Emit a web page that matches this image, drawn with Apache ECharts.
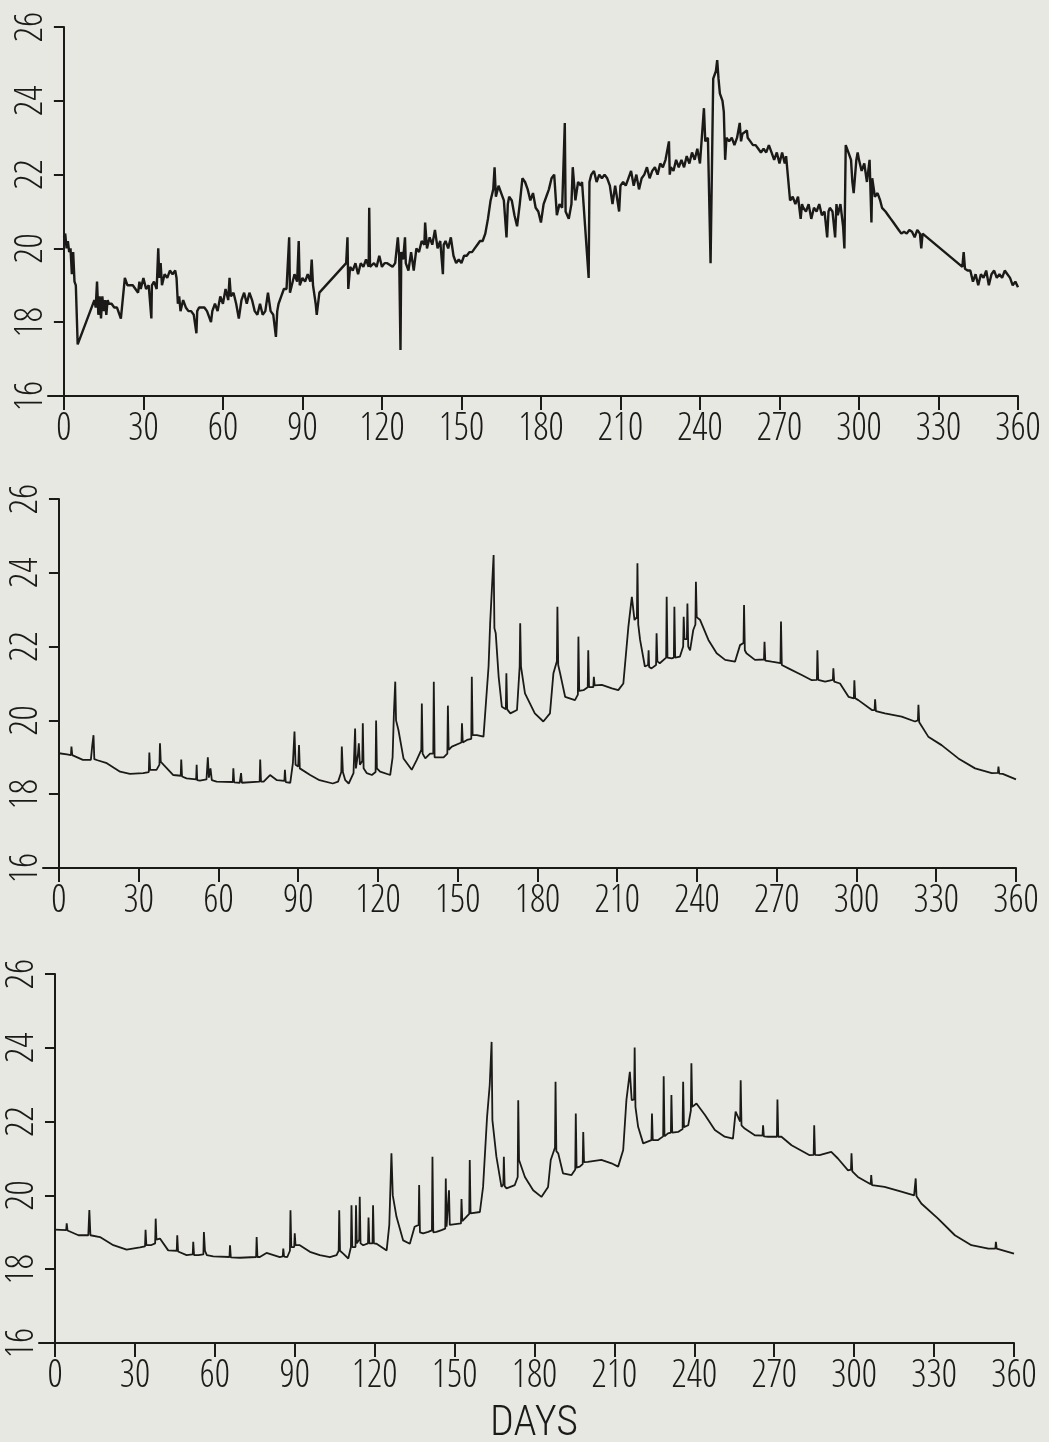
<!DOCTYPE html>
<html>
<head>
<meta charset="utf-8">
<script src="https://cdn.jsdelivr.net/npm/echarts@6/dist/echarts.min.js"></script>
<style>
html,body{margin:0;padding:0;background:#e7e8e2;}
#c{width:1049px;height:1442px;}
</style>
</head>
<body>
<div id="c"></div>
<script>
// Tick values
const dayTicks = [0,30,60,90,120,150,180,210,240,270,300,330,360];
const tempTicks = [16,18,20,22,24,26];
const xLabel = 'DAYS';

// Panel 1 (observed, noisy) [day, temperature]
const panelTop = [[0,20.3],[0.5,20.4],[1,20.0],[1.5,20.2],[2,19.9],[2.5,20.0],[3,19.3],[3.5,19.9],[4,19.1],[4.5,19.0],[5.2,17.4],[11.5,18.6],[12,18.4],[12.5,19.1],[13,18.2],[13.5,18.7],[14,18.1],[14.5,18.7],[15,18.3],[15.5,18.6],[16,18.2],[16.5,18.6],[17,18.5],[18,18.5],[19,18.4],[20,18.4],[21.5,18.1],[23,19.2],[24,19.0],[26,19.0],[27,18.9],[28,18.8],[28.5,19.1],[29,18.9],[30,19.2],[31,18.9],[32,19.0],[33,18.1],[33.2,19.0],[34,19.1],[35,18.9],[35.6,20.0],[36,19.2],[36.5,19.6],[37,19.0],[38,19.3],[39,19.2],[40,19.4],[41,19.3],[42,19.4],[42.5,19.2],[43,18.5],[43.5,18.7],[44,18.3],[45,18.6],[46,18.4],[47,18.3],[48,18.3],[49,18.2],[50,17.7],[50.3,18.3],[51,18.4],[53,18.4],[54,18.3],[55.5,18.0],[56,18.3],[57,18.5],[58,18.3],[59,18.7],[60,18.5],[61,18.9],[62,18.6],[62.5,19.2],[63,18.7],[64,18.8],[65,18.5],[66,18.1],[67,18.6],[68,18.8],[69,18.5],[70,18.8],[71,18.6],[72,18.3],[73,18.2],[74,18.5],[75,18.2],[76,18.3],[77,18.8],[78,18.3],[79,18.2],[80,17.6],[80.5,18.3],[81,18.5],[82,18.7],[83,18.9],[84,18.9],[85,20.3],[85.3,18.8],[86,19.0],[87,19.3],[88,19.1],[88.6,20.2],[89,19.0],[90,19.2],[91,19.1],[92,19.3],[93,19.1],[93.5,19.7],[94,19.0],[95,18.5],[95.4,18.2],[96.4,18.8],[106.5,19.6],[107,20.3],[107.3,18.9],[108,19.5],[109,19.4],[110,19.6],[111,19.3],[112,19.6],[113,19.5],[114,19.7],[115,19.5],[115.2,21.1],[115.5,19.5],[117,19.6],[118,19.5],[119,19.8],[120,19.5],[121,19.6],[122,19.6],[124,19.5],[125,19.6],[126,20.3],[126.5,19.8],[127,17.25],[127.3,19.9],[128,19.7],[128.7,20.3],[129,19.6],[130,19.4],[131,19.9],[132,19.4],[133,20.0],[134,19.9],[135,20.2],[136,20.1],[136.3,20.7],[137,20.0],[138,20.3],[139,20.1],[140,20.5],[141,20.0],[142,20.2],[143,19.3],[143.3,20.1],[144,20.2],[145,20.0],[146,20.3],[147,19.8],[148,19.6],[149,19.7],[150,19.6],[151,19.8],[152,19.8],[153,19.9],[154,19.9],[155,20.0],[156,20.1],[157,20.2],[158,20.2],[159,20.4],[160,20.8],[161,21.3],[162,21.6],[162.5,22.2],[163,21.4],[164,21.7],[165,21.5],[166,21.3],[167,20.3],[167.5,21.2],[168,21.4],[169,21.3],[170,20.9],[171,20.6],[172,21.2],[173,21.9],[174,21.8],[175,21.6],[176,21.3],[177,21.5],[178,21.1],[179,21.0],[180,20.7],[181,21.2],[182,21.4],[183,21.6],[184,21.9],[185,22.0],[186,20.9],[187,21.2],[188,21.1],[189,23.4],[189.3,21.0],[190.5,20.8],[191.5,21.2],[192,22.2],[193,21.3],[194,21.8],[195,21.7],[195.5,21.8],[198,19.2],[198.3,21.8],[199,22.0],[200,22.1],[201,21.8],[202,22.0],[203,21.9],[204,22.0],[205,21.9],[206,21.7],[207,21.2],[208,21.7],[209.5,21.0],[210,21.7],[211,21.8],[212,21.7],[213,21.9],[214,22.1],[215,21.7],[216,22.0],[217,21.6],[218,21.9],[219,22.0],[220,22.2],[221,21.9],[222,22.1],[223,22.2],[224,22.0],[225,22.3],[226,22.2],[227,22.4],[228.3,22.9],[228.6,22.0],[229,22.2],[230,22.1],[231,22.4],[232,22.2],[233,22.4],[234,22.2],[235,22.5],[236,22.3],[237,22.6],[238,22.4],[239,22.7],[240,22.3],[241.5,23.8],[242,22.9],[243,23.0],[244,19.6],[245,24.6],[246,24.8],[246.5,25.1],[247,24.6],[247.5,24.2],[248.5,24.0],[249,23.7],[249.5,22.4],[250,23.0],[251,22.9],[252,23.0],[253,22.8],[254,23.0],[255,23.4],[255.5,22.9],[256,23.1],[257.7,23.2],[258,23.0],[259,22.9],[260,22.8],[261,22.8],[262,22.7],[263,22.6],[264,22.7],[265,22.6],[266,22.8],[267,22.6],[268,22.4],[269,22.6],[270,22.3],[271,22.6],[272,22.3],[272.5,22.5],[274,21.3],[275,21.4],[276,21.2],[277,21.4],[278,20.8],[278.5,21.2],[279,21.1],[280,21.0],[281,21.2],[282,20.8],[283,21.1],[284,21.0],[285,21.2],[286,20.9],[287,21.0],[288,20.3],[288.5,21.0],[289,21.1],[290,21.0],[291,20.3],[291.5,21.2],[292,20.9],[293,21.2],[294,20.6],[294.5,20.0],[295,22.8],[296,22.6],[297,22.4],[297.5,21.8],[298,21.5],[299,22.4],[299.5,22.6],[300,22.4],[301,22.1],[302,22.3],[303,21.8],[304,22.4],[304.7,20.7],[305,21.9],[306,21.4],[307,21.5],[308,21.3],[308.7,21.1],[310,21.0],[311,20.9],[312,20.8],[313,20.7],[314,20.6],[315,20.5],[316,20.4],[317,20.45],[318,20.4],[319,20.5],[320,20.45],[321,20.3],[322,20.5],[323,20.4],[323.5,20.0],[324,20.4],[339,19.5],[339.5,19.9],[340,19.45],[341,19.4],[342,19.4],[343,19.1],[344,19.3],[345,19.0],[346,19.3],[347,19.2],[348,19.4],[349,19.0],[350,19.3],[351,19.4],[352,19.2],[353,19.3],[354,19.2],[355,19.4],[356,19.3],[357,19.2],[358,19.0],[359,19.1],[360,18.95]];

// Panel 2 [day, temperature]
const panelMid = [[0,19.11],[3,19.08],[4.5,19.06],[4.7,19.29],[5,19.06],[9,18.93],[12,18.93],[12.5,19.3],[13,19.6],[13.3,18.95],[14,19.0],[14.5,18.92],[18,18.84],[23,18.61],[26.7,18.55],[31.7,18.57],[33.8,18.6],[34,19.13],[34.3,18.66],[36.7,18.66],[37.8,18.8],[38,19.38],[38.3,18.88],[39.3,18.8],[43,18.52],[45.8,18.5],[46,18.94],[46.3,18.48],[48,18.43],[51.6,18.4],[51.8,18.8],[52,18.38],[53,18.37],[55.5,18.4],[56,19.0],[56.4,18.45],[57,18.7],[57.5,18.38],[59.3,18.34],[65.4,18.33],[65.6,18.7],[65.9,18.32],[68,18.31],[68.5,18.57],[68.8,18.31],[75.5,18.34],[75.7,18.94],[76,18.34],[77,18.34],[79.4,18.52],[82,18.38],[84.8,18.36],[85,18.66],[85.3,18.33],[87,18.31],[88,18.84],[88.6,19.7],[89,18.8],[90,18.75],[90.3,19.33],[90.6,18.7],[91.3,18.66],[94.5,18.52],[98,18.38],[103,18.29],[105,18.34],[106.2,18.6],[106.4,19.29],[106.8,18.6],[107.7,18.38],[109,18.29],[110.8,18.57],[111.2,18.6],[111.4,19.78],[111.7,18.7],[112.5,19.1],[112.8,19.38],[113.2,18.8],[114.1,18.9],[114.3,19.92],[114.6,18.7],[115.8,18.57],[117.7,18.52],[119.1,18.6],[119.3,20.0],[119.6,18.7],[120.8,18.61],[124.6,18.52],[125.5,19.0],[126,20.2],[126.5,21.05],[126.8,20.0],[127.7,19.74],[129.6,18.97],[132.7,18.66],[134.6,18.93],[136.3,19.2],[136.5,20.46],[136.8,19.1],[137.8,18.97],[139.6,19.1],[140.8,19.1],[141,21.05],[141.3,19.0],[142,19.0],[144.7,19.0],[146.1,19.1],[146.3,20.4],[146.6,19.2],[147.8,19.29],[151.4,19.4],[151.6,19.92],[151.9,19.4],[153.5,19.47],[155.1,19.5],[155.3,21.18],[155.6,19.6],[157.2,19.6],[159.7,19.56],[161.6,21.46],[162.2,22.63],[163.5,24.48],[163.8,22.5],[164.3,22.36],[165.4,21.18],[166.6,20.37],[168.1,20.3],[168.3,21.28],[168.6,20.3],[169.8,20.19],[172.3,20.28],[173.3,21.46],[173.5,22.63],[173.8,21.46],[175.3,20.73],[179,20.19],[182.2,19.97],[184.7,20.19],[186,21.28],[187.3,21.6],[187.5,23.08],[187.8,21.5],[188.5,21.28],[190.4,20.64],[194.1,20.55],[195.2,20.7],[195.4,22.27],[195.7,20.8],[197.3,20.82],[198.9,20.9],[199.1,21.9],[199.4,20.9],[201,20.9],[201.2,21.18],[201.5,20.95],[204.2,20.96],[208,20.87],[210.4,20.82],[212.3,21.0],[214.2,22.54],[215.5,23.35],[216.5,22.72],[217.4,22.8],[217.6,24.26],[217.9,22.6],[218.6,22.18],[220.4,21.46],[221.6,21.5],[221.8,21.9],[222,21.45],[222.9,21.41],[224.6,21.5],[224.8,22.36],[225.1,21.6],[226,21.55],[228.4,21.7],[228.6,23.35],[228.9,21.7],[230.5,21.68],[231.3,21.7],[231.5,23.08],[231.8,21.7],[233.6,21.73],[234.8,22.0],[235,22.81],[235.3,22.2],[236.2,22.2],[236.4,23.17],[236.7,22.0],[237.4,21.9],[238.6,22.45],[239.4,22.6],[239.6,23.76],[239.9,22.8],[241.2,22.72],[244.3,22.18],[247.4,21.82],[250.6,21.64],[254.3,21.59],[256.2,22.04],[257.5,22.1],[257.7,23.13],[258,21.9],[258.6,21.82],[261.8,21.64],[265.2,21.65],[265.4,22.13],[265.7,21.62],[268.1,21.59],[271.4,21.55],[271.6,22.68],[271.9,21.5],[274.4,21.41],[279.4,21.23],[283.2,21.09],[285.1,21.1],[285.3,21.9],[285.6,21.1],[288.2,21.05],[291.1,21.1],[291.3,21.41],[291.6,21.05],[293.8,21.0],[297,20.64],[299,20.6],[299.2,21.09],[299.5,20.6],[300.7,20.55],[305.8,20.28],[306.8,20.28],[307,20.57],[307.3,20.25],[310.7,20.19],[317,20.1],[322,19.97],[323.1,20.0],[323.3,20.42],[323.6,19.95],[327,19.56],[332,19.33],[338.3,18.97],[344.6,18.7],[350.9,18.57],[353.2,18.58],[353.4,18.75],[353.7,18.56],[355,18.55],[360,18.4]];

// Panel 3 [day, temperature]
const panelBot = [[0,19.07],[4.2,19.06],[4.4,19.24],[4.7,19.05],[8.8,18.92],[12.5,18.92],[12.9,19.6],[13.3,18.92],[16.9,18.87],[21.9,18.65],[26.9,18.53],[31.9,18.59],[33.8,18.62],[34,19.07],[34.3,18.65],[36,18.65],[37.6,18.7],[37.8,19.37],[38.1,18.8],[39.4,18.83],[42.5,18.51],[45.7,18.5],[45.9,18.92],[46.2,18.48],[49.4,18.38],[51.7,18.4],[51.9,18.74],[52.2,18.38],[53.8,18.38],[55.7,18.4],[55.9,19.01],[56.3,18.5],[57,18.38],[59.4,18.35],[65.5,18.33],[65.7,18.65],[66,18.32],[69.4,18.31],[75.5,18.33],[75.7,18.87],[76,18.33],[76.9,18.33],[79.4,18.44],[84.4,18.33],[85.5,18.35],[85.7,18.56],[86,18.34],[87.2,18.33],[88.2,18.5],[88.4,19.6],[88.7,18.6],[89.8,18.6],[90,18.97],[90.3,18.65],[91.9,18.65],[95.7,18.47],[99.4,18.38],[103.2,18.33],[105.7,18.38],[106.5,18.5],[106.7,19.6],[107,18.5],[108.2,18.42],[110.1,18.29],[111.1,18.6],[111.3,19.73],[111.6,18.6],[112.8,18.6],[113,19.73],[113.3,18.7],[114.2,18.8],[114.4,19.96],[114.7,18.7],[115.7,18.65],[117.5,18.7],[117.7,19.4],[118,18.7],[119.2,18.7],[119.4,19.73],[119.7,18.7],[120.7,18.69],[124.5,18.51],[125.5,19.2],[126.3,21.14],[126.8,20.0],[128.2,19.42],[130.7,18.78],[133.2,18.69],[135,19.15],[136.5,19.2],[136.7,20.28],[137,19.0],[138.2,18.97],[140.1,19.01],[141.5,19.05],[141.7,21.05],[142,19.0],[143.2,19.01],[145.1,19.06],[146.5,19.1],[146.7,20.46],[147,19.15],[147.7,19.15],[147.9,20.14],[148.2,19.2],[152.4,19.24],[152.6,19.9],[152.9,19.3],[155.5,19.5],[155.7,20.96],[156,19.51],[159.5,19.55],[160.7,20.23],[162.2,22.13],[163.2,23.0],[163.9,24.16],[164.2,22.04],[165.7,21.05],[167.6,20.23],[168.3,20.3],[168.5,21.05],[168.8,20.25],[169.5,20.19],[172.6,20.28],[173.7,20.5],[173.9,22.58],[174.2,20.96],[176.4,20.5],[179.5,20.14],[182.6,19.96],[185.1,20.23],[186.1,20.96],[187.7,21.3],[187.9,23.08],[188.2,21.2],[188.9,21.14],[190.7,20.6],[193.9,20.55],[195.3,20.7],[195.5,22.22],[195.8,20.75],[197,20.78],[198.1,20.85],[198.3,21.72],[198.6,20.9],[200,20.91],[205.1,20.96],[208.9,20.87],[211.4,20.78],[213.3,21.23],[214.5,22.58],[215.8,23.35],[216.5,22.58],[217.4,22.6],[217.6,24.01],[217.9,22.4],[218.9,21.86],[220.8,21.41],[223.9,21.5],[224.1,22.22],[224.4,21.5],[226.4,21.5],[228.3,21.6],[228.5,23.23],[228.8,21.6],[230.1,21.68],[231.2,21.7],[231.4,22.72],[231.7,21.7],[233.9,21.72],[235.6,21.8],[235.8,23.08],[236.1,21.85],[237.7,21.9],[238.7,22.3],[238.9,23.58],[239.2,22.4],[240.8,22.49],[244,22.18],[247.7,21.77],[251.4,21.59],[254.5,21.54],[255.5,22.27],[257.2,22.0],[257.4,23.12],[257.7,21.9],[258.9,21.81],[262.7,21.63],[265.6,21.62],[265.8,21.9],[266.1,21.6],[267.7,21.59],[271,21.59],[271.2,22.6],[271.5,21.59],[272.7,21.59],[276.5,21.36],[283.3,21.09],[284.8,21.1],[285,21.9],[285.3,21.1],[287,21.09],[291.4,21.18],[293.9,21.0],[297.7,20.68],[298.8,20.7],[299,21.14],[299.3,20.65],[301.4,20.5],[306.2,20.3],[306.4,20.55],[306.7,20.28],[311.4,20.23],[317.7,20.1],[322.5,20.0],[323.1,20.46],[323.4,19.98],[325.2,19.78],[331.5,19.37],[337.8,18.92],[344,18.65],[350.4,18.56],[353,18.56],[353.2,18.74],[353.5,18.56],[360,18.42]];

const INK = '#1c1919';
const FONT = "'Open Sans Condensed Light', 'Roboto Condensed Light', sans-serif";
const NAME_FONT = "'Roboto Condensed Light', 'Open Sans Condensed Light', sans-serif";

const grids = [
  {left: 48, top: 27, width: 970, height: 369, outerBoundsMode: 'none'},
  {left: 43, top: 499, width: 973, height: 369, outerBoundsMode: 'none'},
  {left: 39, top: 974, width: 975, height: 369, outerBoundsMode: 'none'}
];

function makeX(i, withName) {
  const ax = {
    type: 'value', gridIndex: i, min: -6, max: 360,
    axisLine: {onZero: false, lineStyle: {color: INK, width: 2}},
    axisTick: {show: true, customValues: dayTicks, length: 14, lineStyle: {color: INK, width: 2}},
    axisLabel: {customValues: dayTicks, color: INK, fontFamily: FONT, fontSize: 38, margin: 15},
    splitLine: {show: false}
  };
  if (withName) {
    ax.name = xLabel;
    ax.nameLocation = 'middle';
    ax.nameGap = 80;
    ax.nameTextStyle = {color: INK, fontFamily: NAME_FONT, fontSize: 42, verticalAlign: 'middle', padding: [0,0,0,15]};
  }
  return ax;
}
function makeY(i) {
  return {
    type: 'value', gridIndex: i, min: 16, max: 26, interval: 2,
    axisLine: {show: true, onZero: true, lineStyle: {color: INK, width: 2}},
    axisTick: {show: true, length: 10, lineStyle: {color: INK, width: 2}},
    axisLabel: {rotate: 90, color: INK, fontFamily: FONT, fontSize: 38, margin: 16, verticalAlign: 'middle', lineHeight: 38},
    splitLine: {show: false}
  };
}
function makeSeries(i, data, w) {
  return {
    type: 'line', xAxisIndex: i, yAxisIndex: i, data: data,
    showSymbol: false, symbol: 'none', smooth: false,
    lineStyle: {color: INK, width: w}
  };
}

const chart = echarts.init(document.getElementById('c'), null, {renderer: 'canvas'});
chart.setOption({
  backgroundColor: '#e7e8e2',
  animation: false,
  grid: grids,
  xAxis: [makeX(0, false), makeX(1, false), makeX(2, true)],
  yAxis: [makeY(0), makeY(1), makeY(2)],
  series: [makeSeries(0, panelTop, 2.4), makeSeries(1, panelMid, 1.8), makeSeries(2, panelBot, 1.8)]
});
</script>
</body>
</html>
